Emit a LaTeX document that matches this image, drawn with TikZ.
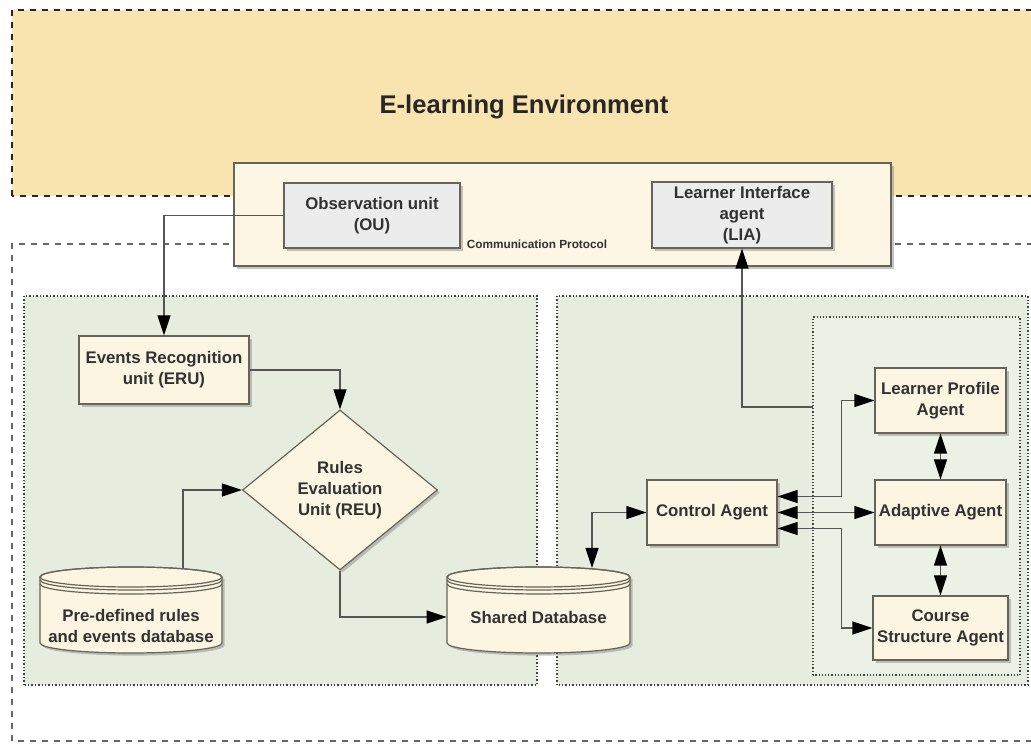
\documentclass[tikz,border=0pt]{standalone}
\usepackage{fontspec}
\setmainfont{Liberation Sans}
\usetikzlibrary{arrows.meta,calc,positioning,shapes.geometric,shadows}

\definecolor{envfill}{RGB}{249,228,176}
\definecolor{protofill}{RGB}{253,246,228}
\definecolor{panelfill}{RGB}{231,237,222}
\definecolor{innerfill}{RGB}{235,241,228}
\definecolor{nodefill}{RGB}{252,245,226}
\definecolor{greyfill}{RGB}{236,236,236}
\definecolor{boxline}{RGB}{100,100,88}
\definecolor{linegray}{RGB}{85,85,85}
\definecolor{textgray}{RGB}{50,50,50}

\begin{document}
\begin{tikzpicture}
  % Global looks
  \tikzset{
    tip/.tip      = {Triangle[length=10pt, width=6.5pt, black]},
    shade/.style  = {drop shadow={shadow xshift=1.3pt, shadow yshift=-1.3pt, opacity=0.45}},
    box/.style    = {draw=boxline, fill=nodefill, line width=0.6pt, shade, align=center,
                     text=textgray, inner sep=1pt,
                     font=\bfseries\fontsize{8.4}{10.5}\selectfont},
    greybox/.style = {box, fill=greyfill},
    decide/.style = {box, shape=diamond, aspect=1.2, inner sep=0pt,
                     minimum width=97.5pt, minimum height=80pt},
    dbtext/.style = {align=center, text=textgray, inner sep=0pt,
                     font=\bfseries\fontsize{8.4}{10.5}\selectfont},
    panel/.style  = {draw=black!75, densely dotted, line width=0.7pt},
    zone/.style   = {draw=black!85, dashed, line width=0.8pt},
    link/.style   = {draw=linegray, line width=0.6pt, -tip},
    dlink/.style  = {draw=linegray, line width=0.6pt, tip-tip}
  }

  % one unit = one pixel of the 1031x743 frame
  \begin{scope}[x=0.5pt,y=0.5pt]
    \useasboundingbox (0,0) rectangle (1031,743);
    \clip (0,0) rectangle (1031,743);

    % --- Environment band and system zone ---
    \fill[white] (0,0) rectangle (1031,743);
    \path[zone, fill=envfill] (12,547) rectangle (1045,733);
    \path[zone, draw=black!60] (12,2) rectangle (1045,499);
    \node[font=\bfseries\fontsize{12.8}{15}\selectfont, text=black!85] (env) at (524,636) {E-learning Environment};

    % --- Communication protocol strip ---
    \node[box, fill=protofill, minimum width=328.5pt, minimum height=51.5pt] (proto) at (562.5,528.5) {};
    \node[font=\bfseries\fontsize{5.9}{7}\selectfont, text=textgray] (protolbl) at (537,499) {Communication Protocol};
    \node[greybox, minimum width=88pt, minimum height=32.5pt] (ou) at (372,527.5) {Observation unit\\(OU)};
    \node[greybox, minimum width=90pt, minimum height=33pt] (lia) at (742,528) {Learner Interface\\agent\\(LIA)};

    % --- Panels ---
    \path[panel, fill=panelfill] (24,58) rectangle (537,447);
    \path[panel, fill=panelfill] (557,58) rectangle (1028,447);
    \path[panel, fill=innerfill, line width=0.6pt] (813,68) rectangle (1020,426);

    % --- Left panel: event handling ---
    \node[box, minimum width=85pt, minimum height=34pt] (eru) at (164,373) {Events Recognition\\unit (ERU)};
    \node[decide] (reu) at (340,253) {Rules\\Evaluation\\Unit (REU)};

    % database stacks (Pre-defined, Shared)
    \foreach \cx/\rx in {131/91, 538.5/91.5} {
      \path[draw=boxline, fill=nodefill, line width=0.6pt, shade]
        (\cx-\rx,166) -- (\cx-\rx,100)
        arc[start angle=180, end angle=360, x radius=\rx, y radius=10]
        -- (\cx+\rx,166)
        arc[start angle=0, end angle=180, x radius=\rx, y radius=10] -- cycle;
      \draw[boxline, line width=0.6pt] (\cx,166) ellipse[x radius=\rx, y radius=10];
      \foreach \dy in {3,7}
        \draw[boxline, line width=0.6pt] (\cx-\rx,166-\dy)
          arc[start angle=180, end angle=360, x radius=\rx, y radius=10];
    }
    \node[dbtext, minimum width=91pt] (pdb) at (131,117) {Pre-defined rules\\and events database};
    \node[dbtext, minimum width=91.5pt] (sdb) at (538.5,126) {Shared Database};
    \coordinate (pdbtop) at (183,175);
    \coordinate (sdbtop) at (592,175);

    % --- Right panel: agents ---
    \node[box, minimum width=65pt, minimum height=32.5pt] (ctl) at (712,230.5) {Control Agent};
    \node[box, minimum width=65.5pt, minimum height=32.5pt] (lpa) at (940.5,342.5) {Learner Profile\\Agent};
    \node[box, minimum width=65.5pt, minimum height=32.5pt] (ada) at (940.5,230.5) {Adaptive Agent};
    \node[box, minimum width=67.5pt, minimum height=32pt] (csa) at (940.5,115) {Course\\Structure Agent};
    \coordinate (agtap) at (813,336);

    % --- Connectors ---
    \draw[link] (ou.west) -| (eru.north);
    \draw[link] (eru.east) -| (reu.north);
    \draw[link] (pdbtop) |- (reu.west);
    \draw[link] (reu.south) |- (sdb.west);
    \draw[dlink] (sdbtop) |- (ctl.west);
    \draw[link] (agtap) -| (lia.south);
    \draw[dlink] (lpa.west) -- ++(-33,0) |- ($(ctl.east)+(0,16)$);
    \draw[dlink] (ctl.east) -- (ada.west);
    \draw[dlink] (csa.west) -- ++(-31,0) |- ($(ctl.east)+(0,-16)$);
    \draw[dlink] (lpa.south) -- (ada.north);
    \draw[dlink] (ada.south) -- (csa.north);
  \end{scope}
\end{tikzpicture}
\end{document}
